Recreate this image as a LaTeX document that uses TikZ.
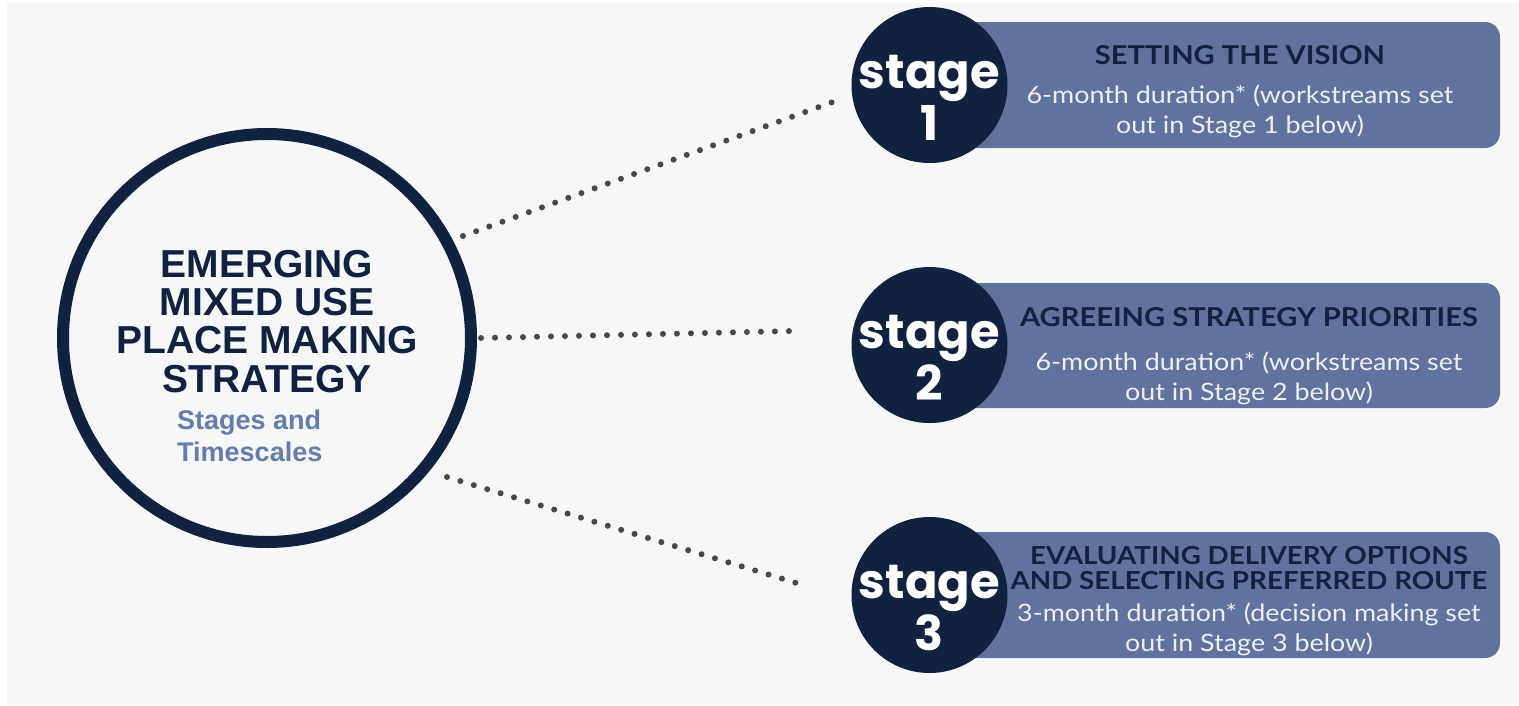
\documentclass[tikz,border=0pt]{standalone}
\usepackage{fontspec}
\newfontfamily\mainfont{Liberation Sans}
\newfontfamily\stagefont{Poppins}
\newfontfamily\boxfont{Lato}[FakeStretch=1.12]
\definecolor{bg}{RGB}{247,247,247}
\definecolor{navy}{RGB}{17,33,64}
\definecolor{boxblue}{RGB}{95,115,158}
\definecolor{subblue}{RGB}{100,125,172}
\definecolor{bodywhite}{RGB}{238,240,246}
\definecolor{dotgray}{RGB}{72,72,72}
\tikzset{
  stagecircle/.style={circle, fill=navy, minimum size=156pt, inner sep=0pt},
  stagebox/.style={fill=boxblue, rounded corners=15pt},
  stagetext/.style={text=white, anchor=base, inner sep=0pt, font=\stagefont\bfseries\fontsize{48}{48}\selectfont},
  titletext/.style={text=navy, anchor=base, inner sep=0pt, align=center, font=\boxfont\bfseries\fontsize{26}{25}\selectfont},
  bodytext/.style={text=bodywhite, anchor=base, inner sep=0pt, align=center, font=\boxfont\fontsize{24}{30}\selectfont},
  dotline/.style={dotgray, line width=6pt, dash pattern=on 0pt off 14pt, line cap=round},
}
\begin{document}
\begin{tikzpicture}[x=1pt,y=-1pt]
\useasboundingbox (0,0) rectangle (1519,705);
\fill[white] (0,0) rectangle (1519,705);
\fill[bg] (7,3) rectangle (1519,705);

% main circle
\node[circle, draw=navy, line width=12pt, fill=bg, minimum size=408pt, inner sep=0pt] (main) at (267,338) {};
% (anchor base = baseline of the last line)
\node[text=navy, anchor=base, inner sep=0pt, align=center, font=\mainfont\bfseries\fontsize{39}{38.3}\selectfont] (maintitle) at (267,392) {EMERGING\\MIXED USE\\PLACE MAKING\\STRATEGY};
\node[text=subblue, anchor=base west, inner sep=0pt, align=left, font=\mainfont\bfseries\fontsize{27}{32}\selectfont] (sub) at (177,461) {Stages and\\Timescales};

% boxes
\fill[stagebox] (929,22) rectangle (1500,148);
\fill[stagebox] (929,283) rectangle (1500,408);
\fill[stagebox] (929,532) rectangle (1500,658);

% stage circles
\node[stagecircle] (s1) at (929.5,85) {};
\node[stagecircle] (s2) at (929.5,345) {};
\node[stagecircle] (s3) at (929.5,595) {};
\node[stagetext] (s1a) at (929.5,88) {stage};
\node[stagetext] (s1b) at (929.5,140) {1};
\node[stagetext] (s2a) at (929.5,348) {stage};
\node[stagetext] (s2b) at (929.5,400) {2};
\node[stagetext] (s3a) at (929.5,598) {stage};
\node[stagetext] (s3b) at (929.5,650) {3};

% box texts
\node[titletext] (t1) at (1240,64) {SETTING THE VISION};
\node[bodytext] (b1) at (1240,133) {6-month duration* (workstreams set\\out in Stage 1 below)};
\node[titletext] (t2) at (1249,326) {AGREEING STRATEGY PRIORITIES};
\node[bodytext] (b2) at (1249,400) {6-month duration* (workstreams set\\out in Stage 2 below)};
\node[titletext, font=\boxfont\bfseries\fontsize{24.8}{25}\selectfont] (t3) at (1249,589) {EVALUATING DELIVERY OPTIONS\\AND SELECTING PREFERRED ROUTE};
\node[bodytext] (b3) at (1249,651) {3-month duration* (decision making set\\out in Stage 3 below)};

% dotted connectors
\coordinate (c1a) at (463,236);
\coordinate (c1b) at (841,99);
\coordinate (c2a) at (481,338);
\coordinate (c2b) at (793,331);
\coordinate (c3a) at (447,477);
\coordinate (c3b) at (803,585);
\draw[dotline] (c1a) -- (c1b);
\draw[dotline] (c2a) -- (c2b);
\draw[dotline] (c3a) -- (c3b);
\end{tikzpicture}
\end{document}
